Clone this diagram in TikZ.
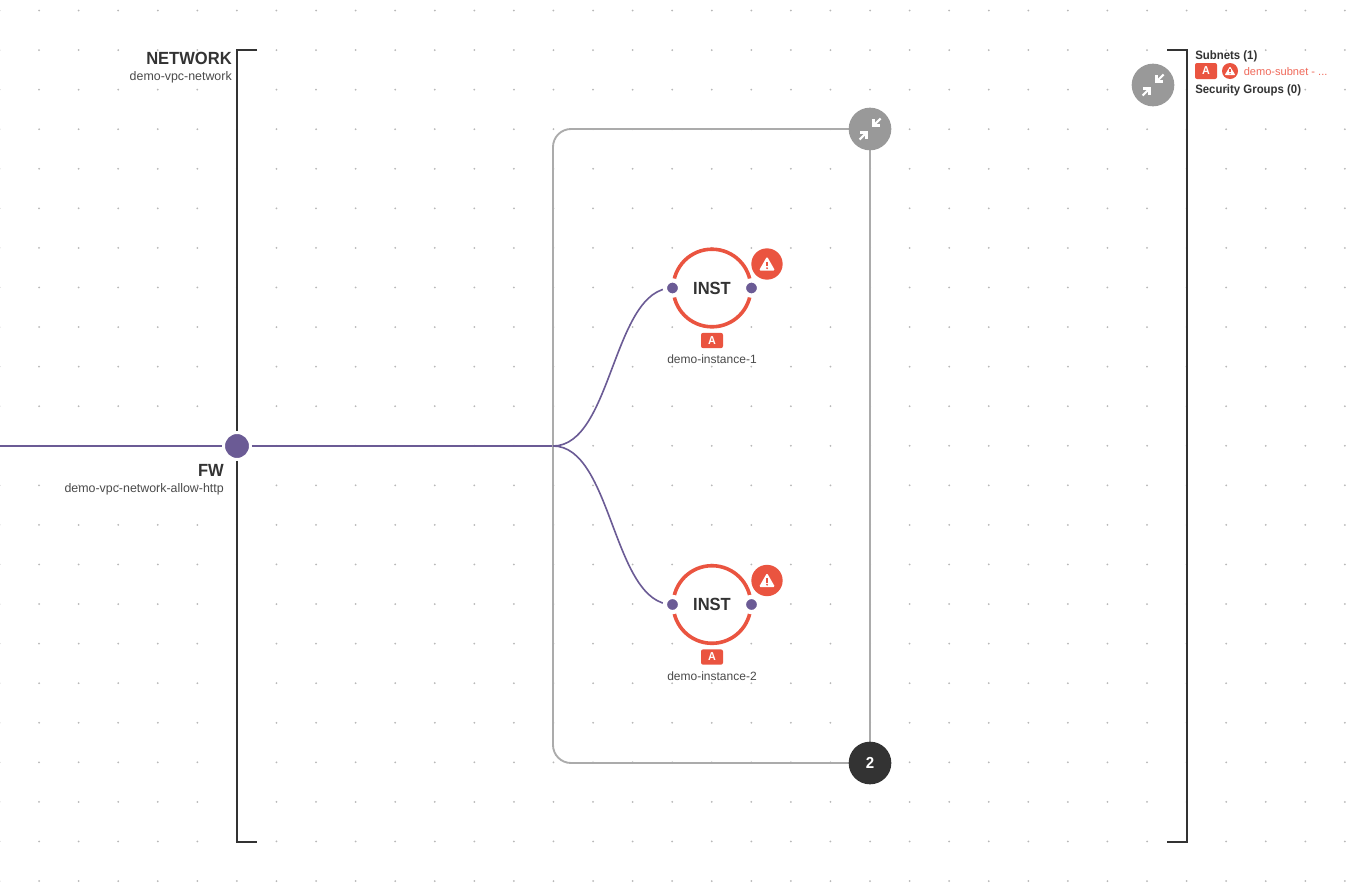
\documentclass[tikz,border=0pt]{standalone}
\usepackage{fontspec}
\setmainfont{Liberation Sans}[BoldFeatures={FakeStretch=0.94}]
\usetikzlibrary{backgrounds}
\definecolor{ink}{HTML}{333333}
\definecolor{soft}{HTML}{4A4A4A}
\definecolor{alert}{HTML}{EA5440}
\definecolor{alertsoft}{HTML}{F0695A}
\definecolor{plum}{HTML}{6B5B95}
\definecolor{stone}{HTML}{999999}
\definecolor{rail}{HTML}{ABABAB}
\definecolor{griddot}{HTML}{B8B8B8}
\tikzset{
  x=0.75pt,y=-0.75pt,
  bracketline/.style={draw=ink,line width=1.5pt},
  flowline/.style={draw=plum,line width=1.4pt},
  flowcurve/.style={draw=plum,line width=1.2pt},
  railline/.style={draw=rail,line width=1.4pt},
  bigport/.style={circle,fill=plum,draw=white,line width=2pt,inner sep=0pt,minimum size=20pt},
  portdot/.style={circle,fill=plum,draw=white,line width=3.2pt,inner sep=0pt,minimum size=11.4pt},
  instnode/.style={circle,draw=alert,line width=2.7pt,fill=white,inner sep=0pt,minimum size=58.2pt,text=ink,font=\bfseries\fontsize{13.2pt}{15pt}\selectfont},
  roundbtn/.style={circle,inner sep=0pt,minimum size=32pt},
  alertdisc/.style={circle,fill=alert,inner sep=0pt,minimum size=23.5pt},
  alertsmall/.style={circle,fill=alert,inner sep=0pt,minimum size=12pt},
  tagbox/.style={rectangle,rounded corners=1.5pt,fill=alert,text=white,inner sep=0pt,minimum width=16.5pt,minimum height=11.4pt,font=\bfseries\fontsize{8.6pt}{9pt}\selectfont},
  headlabel/.style={inner sep=0pt,text=ink,font=\bfseries\fontsize{13.2pt}{15pt}\selectfont},
  sublabel/.style={inner sep=0pt,text=soft,font=\fontsize{9pt}{11pt}\selectfont},
  sublabelwide/.style={inner sep=0pt,text=soft,font=\fontsize{9.3pt}{11pt}\selectfont},
  panelhead/.style={inner sep=0pt,text=ink,font=\bfseries\fontsize{9.1pt}{11pt}\selectfont},
  panelalert/.style={inner sep=0pt,text=alertsoft,font=\fontsize{8.3pt}{11pt}\selectfont},
  compress/.pic={
    \draw[white,line width=1.6pt] (10.5,-10.5) -- (3.5,-3.5);
    \draw[white,line width=1.6pt] (3.5,-10) -- (3.5,-3.5) -- (10,-3.5);
    \draw[white,line width=1.6pt] (-10.5,10.5) -- (-3.5,3.5);
    \draw[white,line width=1.6pt] (-10,3.5) -- (-3.5,3.5) -- (-3.5,10);
  },
  warnbig/.pic={
    \fill[white,rounded corners=1pt] (0,-7.5) -- (8,6.5) -- (-8,6.5) -- cycle;
    \fill[alert] (-0.9,-2.5) rectangle (0.9,2.2);
    \fill[alert] (0,4.2) circle (1.05);
  },
  warnsmall/.pic={
    \fill[white,rounded corners=0.6pt] (0,-4.6) -- (5.3,4) -- (-5.3,4) -- cycle;
    \fill[alert] (-0.6,-1.6) rectangle (0.6,1.4);
    \fill[alert] (0,2.7) circle (0.7);
  },
}
\begin{document}
\begin{tikzpicture}
\useasboundingbox (0,0) rectangle (1357,896);
% nodes
\node[bigport] (fw) at (237,446) {};
\coordinate (lineStart) at (0,446);
\coordinate (junction) at (553,446);
\coordinate (netTop) at (257,50);
\coordinate (netTopCorner) at (237,50);
\coordinate (netBotCorner) at (237,842);
\coordinate (netBot) at (257,842);
\coordinate (panTop) at (1167,50);
\coordinate (panTopCorner) at (1187,50);
\coordinate (panBotCorner) at (1187,842);
\coordinate (panBot) at (1167,842);
\coordinate (railTop) at (553,129);
\coordinate (railBot) at (553,763);

\node[roundbtn,fill=stone] (collapse) at (870,129) {};
\node[roundbtn,fill=ink,text=white,font=\bfseries\fontsize{12pt}{14pt}\selectfont] (count) at (870,763) {2};
\node[roundbtn,fill=stone] (panelbtn) at (1153,85) {};

\node[instnode] (inst1) at (712,288) {INST};
\node[instnode] (inst2) at (712,604.5) {INST};
\node[portdot] (i1l) at (672.5,288) {};
\node[portdot] (i1r) at (751.5,288) {};
\node[portdot] (i2l) at (672.5,604.5) {};
\node[portdot] (i2r) at (751.5,604.5) {};
\node[alertdisc] (w1) at (767,264) {};
\node[alertdisc] (w2) at (767,580.5) {};
\pic at (w1) {warnbig};
\pic at (w2) {warnbig};
\node[tagbox] (t1) at (712,340.5) {A};
\node[tagbox] (t2) at (712,657) {A};
\node[sublabel,anchor=base] (l1) at (712,363.5) {demo-instance-1};
\node[sublabel,anchor=base] (l2) at (712,680) {demo-instance-2};

\pic at (collapse) {compress};
\pic at (panelbtn) {compress};

\node[headlabel,anchor=base east] (nethead) at (232,64) {NETWORK};
\node[sublabelwide,anchor=base east] (netsub) at (232,80) {demo-vpc-network};
\node[headlabel,anchor=base east] (fwhead) at (224,476) {FW};
\node[sublabelwide,anchor=base east] (fwsub) at (224,492) {demo-vpc-network-allow-http};

\node[panelhead,anchor=base west] (subhead) at (1195,59.5) {Subnets (1)};
\node[tagbox,minimum width=16.5pt,minimum height=12pt] (subtag) at (1206,71) {A};
\node[alertsmall] (subwarn) at (1230,71) {};
\pic at (subwarn) {warnsmall};
\node[panelalert,anchor=base west] (subname) at (1243.5,75.7) {demo-subnet - ...};
\node[panelhead,anchor=base west] (sechead) at (1195,93.3) {Security Groups (0)};

% background and connectors
\begin{scope}[on background layer]
\fill[white] (0,0) rectangle (1357,896);
\foreach \i in {0,...,34}{
  \foreach \j in {0,...,22}{
    \fill[griddot] ({-0.5+39.57*\i},{10.5+39.57*\j}) circle (1);
  }
}
\draw[bracketline] (netTop) -- (netTopCorner) -- (fw.north);
\draw[bracketline] (fw.south) -- (netBotCorner) -- (netBot);
\draw[bracketline] (panTop) -- (panTopCorner) -- (panBotCorner) -- (panBot);
\draw[flowline] (lineStart) -- (fw.west);
\draw[flowline] (fw.east) -- (junction);
\draw[railline,rounded corners=13.5pt] (collapse.center) -- (railTop) -- (railBot) -- (count.center);
\draw[railline] (collapse.center) -- (count.center);
\draw[flowcurve] (junction) .. controls (612.5,446) and (612.5,288) .. (i1l.center);
\draw[flowcurve] (junction) .. controls (612.5,446) and (612.5,604.5) .. (i2l.center);
\end{scope}
\end{tikzpicture}
\end{document}
